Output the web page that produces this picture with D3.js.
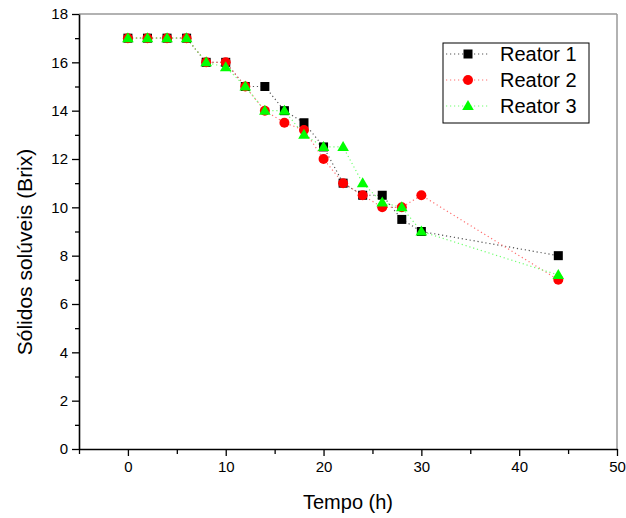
<!DOCTYPE html>
<html>
<head>
<meta charset="utf-8">
<script src="https://cdn.jsdelivr.net/npm/d3@7"></script>
<style>
  body { margin: 0; background: #fff; }
  svg text { font-family: "Liberation Sans", Arial, sans-serif; }
</style>
</head>
<body>
<div id="chart"></div>
<script>
const tempo = [0, 2, 4, 6, 8, 10, 12, 14, 16, 18, 20, 22, 24, 26, 28, 30, 44];
const reator1 = [17, 17, 17, 17, 16, 16, 15, 15, 14, 13.5, 12.5, 11, 10.5, 10.5, 9.5, 9, 8];
const reator2 = [17, 17, 17, 17, 16, 16, 15, 14, 13.5, 13.2, 12, 11, 10.5, 10, 10, 10.5, 7];
const reator3 = [17, 17, 17, 17, 16, 15.8, 15, 14, 14, 13, 12.5, 12.5, 11, 10.2, 10, 9, 7.2];
const seriesNames = ["Reator 1", "Reator 2", "Reator 3"];
const xTicks = [0, 10, 20, 30, 40, 50];
const yTicks = [0, 2, 4, 6, 8, 10, 12, 14, 16, 18];

const svg = d3.select("#chart").append("svg")
    .attr("width", 626)
    .attr("height", 518);

const margin = { top: 14, right: 9, bottom: 69, left: 79 },
    width = 626 - margin.left - margin.right,
    height = 518 - margin.top - margin.bottom;

const x = d3.scaleLinear().domain([-5, 50]).range([margin.left, margin.left + width]);
const y = d3.scaleLinear().domain([0, 18]).range([margin.top + height, margin.top]);

// frame top / right (gray)
svg.append("line")
    .attr("x1", x(-5)).attr("x2", x(50)).attr("y1", y(18)).attr("y2", y(18))
    .attr("stroke", "#999").attr("stroke-width", 1.5);
svg.append("line")
    .attr("x1", x(50)).attr("x2", x(50)).attr("y1", y(18)).attr("y2", y(0))
    .attr("stroke", "#999").attr("stroke-width", 1.5);

// minor ticks
svg.append("g")
    .attr("transform", `translate(0,${y(0)})`)
    .call(d3.axisBottom(x).tickValues(d3.range(-5, 51, 10)).tickSize(5).tickFormat(""))
    .call(g => g.select(".domain").remove())
    .call(g => g.selectAll("line").attr("stroke-width", 1.3));
svg.append("g")
    .attr("transform", `translate(${x(-5)},0)`)
    .call(d3.axisLeft(y).tickValues(d3.range(1, 18, 2)).tickSize(4).tickFormat(""))
    .call(g => g.select(".domain").remove())
    .call(g => g.selectAll("line").attr("stroke-width", 1.3));

// major axes
svg.append("g")
    .attr("transform", `translate(0,${y(0)})`)
    .call(d3.axisBottom(x).tickValues(xTicks).tickSize(7).tickSizeOuter(0).tickPadding(5))
    .call(g => g.select(".domain").attr("stroke-width", 1.6))
    .call(g => g.selectAll("line").attr("stroke-width", 1.3))
    .call(g => g.selectAll("text").attr("font-size", 15).attr("fill", "#000")
        .attr("font-family", "Liberation Sans, Arial, sans-serif"));

svg.append("g")
    .attr("transform", `translate(${x(-5)},0)`)
    .call(d3.axisLeft(y).tickValues(yTicks).tickSize(7).tickSizeOuter(0).tickPadding(4))
    .call(g => g.select(".domain").attr("stroke-width", 1.6))
    .call(g => g.selectAll("line").attr("stroke-width", 1.3))
    .call(g => g.selectAll("text").attr("font-size", 15).attr("fill", "#000")
        .attr("font-family", "Liberation Sans, Arial, sans-serif"));

// axis titles
svg.append("text")
    .attr("x", (x(-5) + x(50)) / 2).attr("y", 509)
    .attr("text-anchor", "middle")
    .attr("font-size", 20)
    .text("Tempo (h)");

svg.append("text")
    .attr("transform", `translate(32,252) rotate(-90)`)
    .attr("text-anchor", "middle")
    .attr("font-size", 21)
    .text("Sólidos solúveis (Brix)");

const series = [
    { name: seriesNames[0], values: reator1, color: "#000", line: "#555", shape: "square" },
    { name: seriesNames[1], values: reator2, color: "#ff0000", line: "#ff7070", shape: "circle" },
    { name: seriesNames[2], values: reator3, color: "#00ff00", line: "#70ff70", shape: "triangle" }
];

const line = d3.line()
    .x((d, i) => x(tempo[i]))
    .y(d => y(d));

function drawMarker(g, shape, color) {
    if (shape === "square") {
        g.append("rect").attr("x", -4.5).attr("y", -4.5).attr("width", 9).attr("height", 9)
            .attr("fill", color);
    } else if (shape === "circle") {
        g.append("circle").attr("r", 5).attr("fill", color);
    } else {
        g.append("path").attr("d", "M0,-6L5.8,4L-5.8,4Z").attr("fill", color);
    }
}

series.forEach(s => {
    svg.append("path")
        .datum(s.values)
        .attr("fill", "none")
        .attr("stroke", s.line)
        .attr("stroke-width", 1.2)
        .attr("stroke-dasharray", "1.2,2.8")
        .attr("d", line);
});

series.forEach(s => {
    s.values.forEach((v, i) => {
        const g = svg.append("g").attr("transform", `translate(${x(tempo[i])},${y(v)})`);
        drawMarker(g, s.shape, s.color);
    });
});

// legend
const legend = svg.append("g");
legend.append("rect")
    .attr("x", 443).attr("y", 43).attr("width", 146).attr("height", 80)
    .attr("fill", "#fff").attr("stroke", "#000").attr("stroke-width", 1);

series.forEach((s, i) => {
    const ly = 54 + i * 26;
    legend.append("line")
        .attr("x1", 446).attr("x2", 490).attr("y1", ly).attr("y2", ly)
        .attr("stroke", s.line).attr("stroke-width", 1.2).attr("stroke-dasharray", "1.2,2.8");
    const g = legend.append("g").attr("transform", `translate(468,${ly})`);
    drawMarker(g, s.shape, s.color);
    legend.append("text")
        .attr("x", 500).attr("y", ly + 7)
        .attr("font-size", 20)
        .text(s.name);
});
</script>
</body>
</html>
